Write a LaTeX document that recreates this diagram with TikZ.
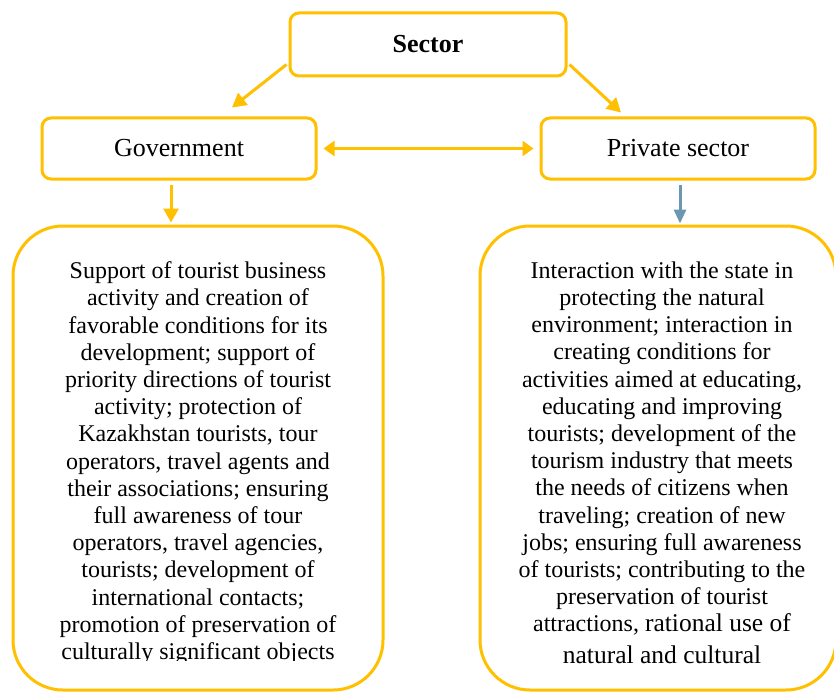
\documentclass[tikz,border=0pt]{standalone}
\usepackage{fontspec}
\setmainfont{Liberation Serif}
\usetikzlibrary{arrows.meta,calc}
\definecolor{gold}{HTML}{FFC000}
\definecolor{steel}{HTML}{6B97B2}
\begin{document}
\begin{tikzpicture}[x=1pt,y=-1pt,
  topbox/.style={draw=gold,line width=3pt,rounded corners=9pt,fill=white,inner sep=0pt,font=\fontsize{26}{30}\selectfont},
  bigbox/.style={draw=gold,line width=3pt,rounded corners=50pt,fill=white,inner sep=0pt},
  bodytext/.style={inner sep=0pt,align=center,font=\fontsize{24}{27.2}\selectfont},
  conn/.style={draw=gold,line width=3pt,-{Triangle[length=14pt,width=15pt]}},
  conn2/.style={draw=gold,line width=3pt,{Triangle[length=11pt,width=15pt]}-{Triangle[length=11pt,width=15pt]}},
  connb/.style={draw=steel,line width=3pt,-{Triangle[length=14pt,width=12pt]}}]
\useasboundingbox (0,0) rectangle (834,695);
\fill[white] (0,0) rectangle (834,695);
\node[topbox,minimum width=276pt,minimum height=63pt] (sector) at (428,44.5) {\textbf{Sector}};
\node[topbox,minimum width=274pt,minimum height=61pt] (gov) at (179,148.5) {Government};
\node[topbox,minimum width=274pt,minimum height=61pt] (priv) at (678,148.5) {Private sector};
\node[bigbox,minimum width=370pt,minimum height=464pt] (lbox) at (198,458) {};
\node[bigbox,minimum width=356pt,minimum height=464pt] (rbox) at (658,458) {};
\begin{scope}
\clip (0,0) rectangle (420,660);
\node[bodytext,anchor=north] (ltext) at (198,261.5) {Support of tourist business\\
activity and creation of\\
favorable conditions for its\\
development; support of\\
priority directions of tourist\\
activity; protection of\\
Kazakhstan tourists, tour\\
operators, travel agents and\\
their associations; ensuring\\
full awareness of tour\\
operators, travel agencies,\\
tourists; development of\\
international contacts;\\
promotion of preservation of\\
culturally significant objects};
\end{scope}
\begin{scope}
\clip (440,0) rectangle (834,667);
\node[bodytext,anchor=north] (rtext) at (662,261.5) {Interaction with the state in\\
protecting the natural\\
environment; interaction in\\
creating conditions for\\
activities aimed at educating,\\
educating and improving\\
tourists; development of the\\
tourism industry that meets\\
the needs of citizens when\\
traveling; creation of new\\
jobs; ensuring full awareness\\
of tourists; contributing to the\\
preservation of tourist\\
attractions, {\fontsize{25.5}{27.2}\selectfont rational use of}\\[4pt]
{\fontsize{25.5}{27.2}\selectfont natural and cultural}};
\end{scope}
\draw[conn] ($(sector.south west)+(-2,-13)$) -- ($(gov.north)+(53,-9)$);
\draw[conn] ($(sector.south east)+(2,-13)$) -- ($(priv.north)+(-57,-4)$);
\draw[conn2] ($(gov.east)+(6,0)$) -- ($(priv.west)+(-6,0)$);
\draw[conn] ($(gov.south)+(-8,4)$) -- ($(lbox.north)+(-27,-2)$);
\draw[connb] ($(priv.south)+(2,4)$) -- ($(rbox.north)+(22,-1)$);
\end{tikzpicture}
\end{document}
